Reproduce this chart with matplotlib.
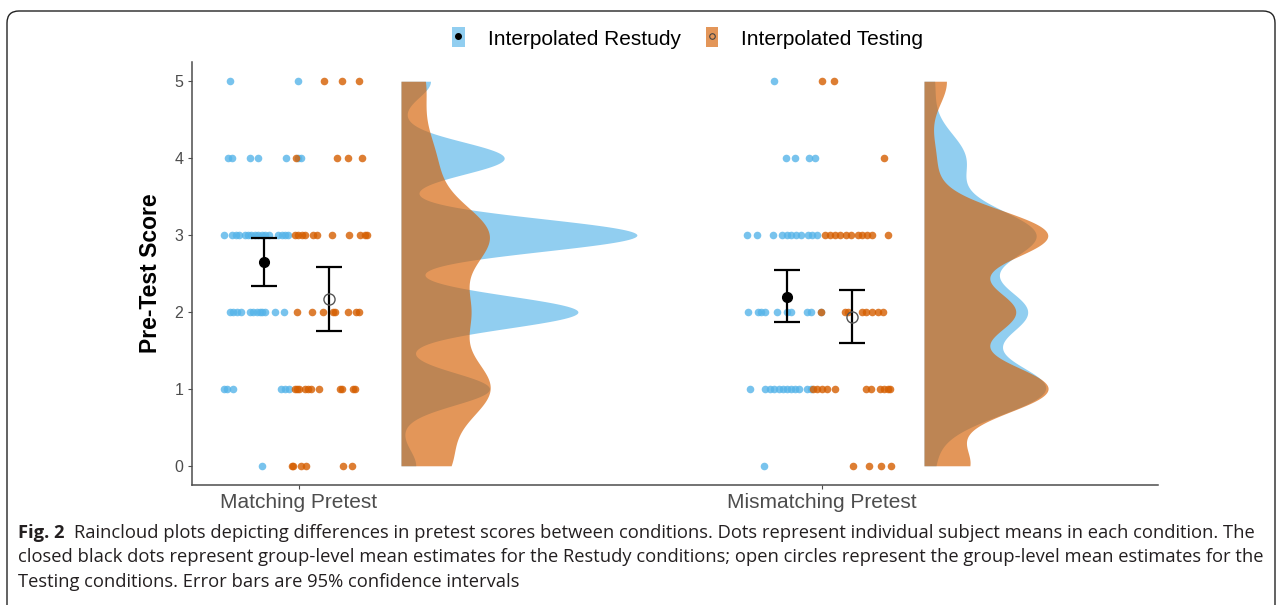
import numpy as np
import matplotlib.pyplot as plt
from matplotlib.patches import Patch, FancyBboxPatch
from matplotlib.lines import Line2D
from matplotlib.legend_handler import HandlerTuple

plt.rcParams['font.family'] = ['Liberation Sans', 'DejaVu Sans']

# ---- data ----
conditions = ['Matching Pretest', 'Mismatching Pretest']
groups = ['Interpolated Restudy', 'Interpolated Testing']

# subject scores: score -> horizontal jitter offsets of the dots
restudy_match = {
    5: [-0.132, -0.002],
    4: [-0.136, -0.128, -0.094, -0.078, -0.025, -0.002, 0.004],
    3: [-0.143, -0.128, -0.120, -0.115, -0.103, -0.098, -0.092, -0.084,
        -0.078, -0.071, -0.065, -0.057, -0.040, -0.033, -0.027, -0.021],
    2: [-0.132, -0.126, -0.119, -0.111, -0.094, -0.088, -0.080, -0.075,
        -0.071, -0.065, -0.046, -0.029],
    1: [-0.143, -0.138, -0.126, -0.034, -0.027, -0.019],
    0: [-0.071],
}
testing_match = {
    5: [0.048, 0.082, 0.115],
    4: [-0.006, 0.073, 0.094, 0.120],
    3: [-0.008, -0.002, 0.006, 0.011, 0.027, 0.034, 0.063, 0.096, 0.117, 0.126, 0.130],
    2: [-0.004, 0.025, 0.046, 0.065, 0.069, 0.094, 0.109, 0.115],
    1: [-0.008, -0.004, 0.000, 0.011, 0.017, 0.023, 0.038, 0.078, 0.082, 0.103, 0.107],
    0: [-0.013, -0.011, 0.004, 0.013, 0.084, 0.101],
}
restudy_mismatch = {
    5: [-0.092],
    4: [-0.069, -0.052, -0.025, -0.013],
    3: [-0.143, -0.124, -0.094, -0.076, -0.067, -0.059, -0.050, -0.040, -0.027, -0.019, -0.010],
    2: [-0.141, -0.122, -0.117, -0.109, -0.086, -0.067, -0.059, -0.029, -0.021, -0.002],
    1: [-0.138, -0.109, -0.099, -0.092, -0.082, -0.075, -0.067, -0.059, -0.052, -0.044, -0.029, -0.021],
    0: [-0.111],
}
testing_mismatch = {
    5: [0.000, 0.023],
    4: [0.119],
    3: [0.006, 0.015, 0.025, 0.034, 0.046, 0.055, 0.069, 0.076, 0.086, 0.096, 0.126],
    2: [-0.002, 0.044, 0.050, 0.076, 0.084, 0.096, 0.107, 0.117],
    1: [-0.017, -0.010, 0.000, 0.010, 0.025, 0.084, 0.094, 0.111, 0.119, 0.126, 0.130],
    0: [0.059, 0.090, 0.113, 0.132],
}

# group means and 95% CI
restudy_mean = [2.65, 2.20]
restudy_lo = [2.34, 1.87]
restudy_hi = [2.96, 2.55]
testing_mean = [2.17, 1.94]
testing_lo = [1.75, 1.59]
testing_hi = [2.58, 2.29]

blue = '#56B4E9'
orange = '#D55E00'

caption = [
    "Raincloud plots depicting differences in pretest scores between conditions. Dots represent individual subject means in each condition. The",
    "closed black dots represent group-level mean estimates for the Restudy conditions; open circles represent the group-level mean estimates for the",
    "Testing conditions. Error bars are 95% confidence intervals",
]


def kde(vals, grid, bw):
    z = (grid[:, None] - vals[None, :]) / bw
    return np.exp(-0.5 * z**2).sum(1) / (len(vals) * bw * np.sqrt(2 * np.pi))


def unpack(d):
    s = np.concatenate([[k] * len(v) for k, v in d.items()]).astype(float)
    x = np.concatenate([v for v in d.values()])
    return s, x


W, H = 1282, 605
fig = plt.figure(figsize=(W / 100, H / 100), dpi=100)
ax = fig.add_axes([192.3 / W, 1 - 485 / H, (1158 - 192.3) / W, (485 - 62) / H])

series = [(restudy_match, testing_match), (restudy_mismatch, testing_mismatch)]
bws = [(0.21, 0.42), (0.35, 0.33)]
grid = np.linspace(0, 5, 500)

dens = {}
for i, (r, t) in enumerate(series):
    for j, d in enumerate((r, t)):
        s, _ = unpack(d)
        dens[(i, j)] = kde(s, grid, bws[i][j])
dmax = max(v.max() for v in dens.values())
cloud_w = 0.451
cloud_off = 0.195

for i in range(2):
    pos = i + 1
    for j, col in enumerate((blue, orange)):
        ax.fill_betweenx(grid, pos + cloud_off, pos + cloud_off + dens[(i, j)] / dmax * cloud_w,
                         color=col, alpha=0.65, lw=0, zorder=1)

for i, (r, t) in enumerate(series):
    pos = i + 1
    for d, col in ((r, blue), (t, orange)):
        s, x = unpack(d)
        ax.scatter(pos + x, s, s=30, color=col, alpha=0.8, lw=0, zorder=2)

xr = np.array([1, 2]) - 0.067
xt = np.array([1, 2]) + 0.057
ax.errorbar(xr, restudy_mean,
            yerr=[np.subtract(restudy_mean, restudy_lo), np.subtract(restudy_hi, restudy_mean)],
            fmt='o', color='black', ms=7, elinewidth=1.6, capsize=9.5, capthick=1.6, zorder=4)
ax.errorbar(xt, testing_mean,
            yerr=[np.subtract(testing_mean, testing_lo), np.subtract(testing_hi, testing_mean)],
            fmt='none', ecolor='black', elinewidth=1.6, capsize=9.5, capthick=1.6, zorder=4)
ax.plot(xt, testing_mean, 'o', mfc='none', mec='#555555', ms=8, mew=1, zorder=5)

ax.set_xlim(1 - (299 - 192.3) / 523, 1 + (1158 - 299) / 523)
ax.set_ylim(-0.25, 5.25)
ax.set_xticks([1, 2])
ax.set_xticklabels(conditions, fontsize=15, color='#4d4d4d')
ax.set_yticks(range(6))
ax.tick_params(axis='y', labelsize=11.5, labelcolor='#4d4d4d', color='#4d4d4d', length=3)
ax.tick_params(axis='x', color='#4d4d4d', length=3, pad=3)
for sp in ('top', 'right'):
    ax.spines[sp].set_visible(False)
for sp in ('left', 'bottom'):
    ax.spines[sp].set_color('#4d4d4d')
    ax.spines[sp].set_linewidth(1.1)
ax.set_ylabel('Pre-Test Score', fontsize=16.5, fontweight='bold', labelpad=9)

handles = [
    (Patch(facecolor=blue, alpha=0.65), Line2D([], [], marker='o', color='black', ms=4, ls='')),
    (Patch(facecolor=orange, alpha=0.65), Line2D([], [], marker='o', mfc='none', mec='#444444', ms=4, mew=0.8, ls='')),
]
fig.legend(handles, groups, loc='center', bbox_to_anchor=(0.5364, 1 - 38 / H), ncol=2,
           frameon=False, fontsize=15, handler_map={tuple: HandlerTuple(ndivide=1, pad=0)},
           handlelength=0.6, handleheight=1.1, handletextpad=1.1, columnspacing=1.2)

# frame around figure panel
fig.patches.append(FancyBboxPatch((0.07, -0.5), (1275 - 7) / 100, (H - 11) / 100 + 0.5,
                                  boxstyle='round,pad=0,rounding_size=0.12',
                                  transform=fig.dpi_scale_trans, fill=False,
                                  ec='#222222', lw=1.0))

# caption
cap_kw = dict(fontsize=13.2, color='#231f20', va='center', family=['Open Sans', 'DejaVu Sans'])
t0 = fig.text(18 / W, 1 - 533 / H, 'Fig. 2', fontweight='bold', **cap_kw)
r = fig.canvas.get_renderer()
x1 = t0.get_window_extent(r).x1 / W
fig.text(x1 + 9 / W, 1 - 533 / H, caption[0], **cap_kw)
fig.text(18 / W, 1 - 557.5 / H, caption[1], **cap_kw)
fig.text(18 / W, 1 - 582 / H, caption[2], **cap_kw)

fig.savefig('out.png', dpi=100)
